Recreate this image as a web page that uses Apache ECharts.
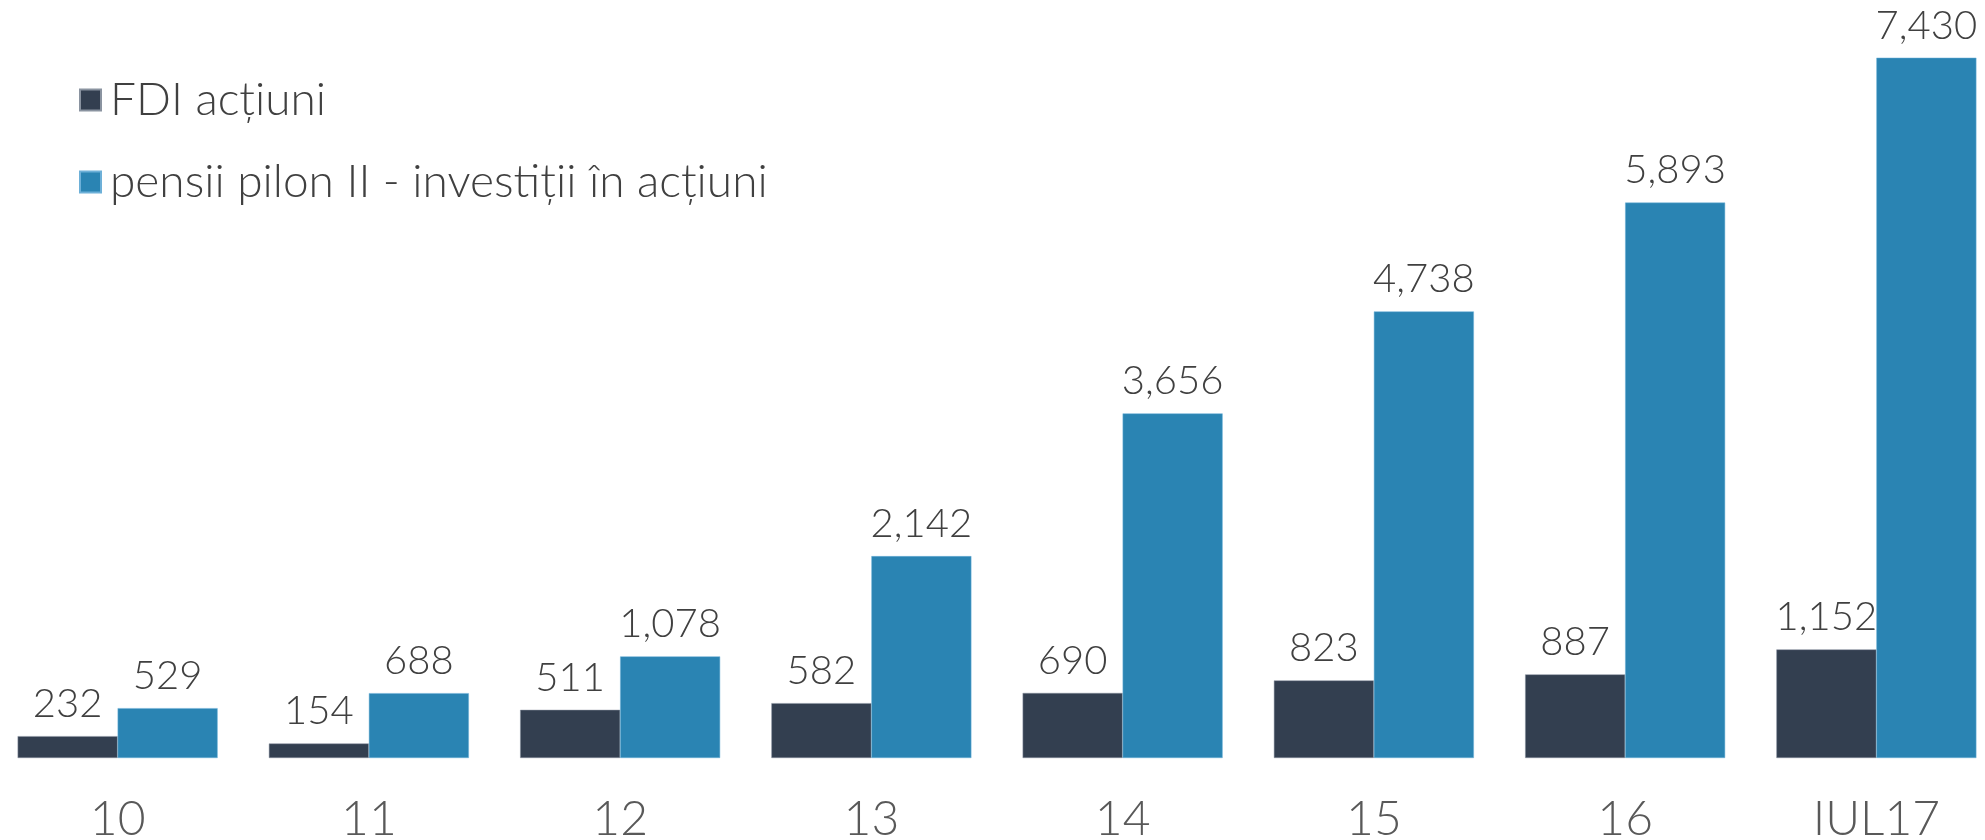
<!DOCTYPE html>
<html>
<head>
<meta charset="utf-8">
<script src="https://cdn.jsdelivr.net/npm/echarts@6/dist/echarts.min.js"></script>
<style>
  html, body { margin: 0; padding: 0; background: #fff; }
  #wrap { position: relative; width: 1985px; height: 840px; overflow: hidden; }
  /* plot band runs a little past both page edges, as in the reference */
  #main { position: absolute; left: -8px; top: 0; width: 2010px; height: 840px; }
</style>
</head>
<body>
<div id="wrap"><div id="main"></div></div>
<script>
// categories and values
var categories = ["10", "11", "12", "13", "14", "15", "16", "IUL17"];
var fdiActiuni = [232, 154, 511, 582, 690, 823, 887, 1152];
var pensiiPilon2 = [529, 688, 1078, 2142, 3656, 4738, 5893, 7430];
var seriesNames = ["FDI acțiuni", "pensii pilon II - investiții în acțiuni"];

var FONT = "Lato";

function fmt(p) {
  return p.value.toLocaleString("en-US");
}

var myChart = echarts.init(document.getElementById("main"));

myChart.setOption({
  animation: false,
  backgroundColor: "#ffffff",
  legend: {
    orient: "vertical",
    left: 82,
    top: 72,
    itemWidth: 21,
    itemHeight: 21,
    itemGap: 36,
    icon: "rect",
    textStyle: {
      fontFamily: FONT,
      fontWeight: 300,
      fontSize: 46,
      lineHeight: 46,
      color: "#404040",
      padding: [0, 0, 0, 4]
    },
    data: seriesNames
  },
  grid: {
    left: 0,
    right: 0,
    top: 4,
    bottom: 82,
    containLabel: false,
    outerBoundsMode: "none"
  },
  xAxis: {
    type: "category",
    data: categories,
    axisLine: { show: false },
    axisTick: { show: false },
    axisLabel: {
      fontFamily: FONT,
      fontWeight: 300,
      fontSize: 48,
      color: "#595959",
      margin: 38
    }
  },
  yAxis: {
    type: "value",
    min: 0,
    max: 8000,
    show: false,
    splitLine: { show: false }
  },
  series: [
    {
      name: seriesNames[0],
      type: "bar",
      data: fdiActiuni,
      barWidth: 100,
      barGap: "0%",
      itemStyle: { color: "#333f50", borderColor: "#8a93a0", borderWidth: 0.5 },
      label: {
        show: true,
        position: "top",
        distance: 12,
        formatter: fmt,
        fontFamily: FONT,
        fontWeight: 300,
        fontSize: 40,
        color: "#404040"
      }
    },
    {
      name: seriesNames[1],
      type: "bar",
      data: pensiiPilon2,
      barWidth: 100,
      barGap: "0%",
      itemStyle: { color: "#2a84b3", borderColor: "#6db0d8", borderWidth: 0.5 },
      label: {
        show: true,
        position: "top",
        distance: 12,
        formatter: fmt,
        fontFamily: FONT,
        fontWeight: 300,
        fontSize: 40,
        color: "#404040"
      }
    }
  ]
});
</script>
</body>
</html>
